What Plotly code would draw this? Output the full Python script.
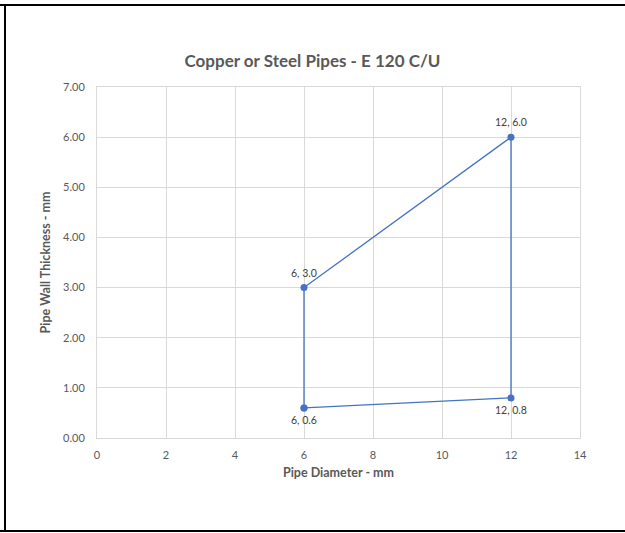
import plotly.graph_objects as go

# pipe outline, closed polygon
diameter = [6, 6, 12, 12, 6]
thickness = [0.6, 3.0, 6.0, 0.8, 0.6]
labels = ["6, 0.6", "6, 3.0", "12, 6.0", "12, 0.8"]
label_above = [False, True, True, False]

x_ticks = [0, 2, 4, 6, 8, 10, 12, 14]
y_ticks = [0, 1, 2, 3, 4, 5, 6, 7]

blue = "#4472C4"
grey = "#595959"

fig = go.Figure()

fig.add_trace(
    go.Scatter(
        x=diameter,
        y=thickness,
        mode="lines+markers",
        line=dict(color=blue, width=1.3),
        marker=dict(color=blue, size=7),
        showlegend=False,
        cliponaxis=False,
    )
)

for x, y, txt, above in zip(diameter, thickness, labels, label_above):
    fig.add_annotation(
        x=x, y=y, text=txt, showarrow=False,
        yshift=15 if above else -12,
        font=dict(family="Lato, Arial", size=10.5, color="#404040"),
    )

W, H = 625, 533
L, R, T, B = 97, 45, 87, 95
pw, ph = W - L - R, H - T - B


def px(x):
    return (x - L) / pw


def py(y):
    return (H - B - y) / ph


# outer frame (top, left, bottom)
frame = dict(color="black", width=2)
fig.add_shape(type="line", xref="paper", yref="paper",
              x0=px(0), x1=px(W), y0=py(5), y1=py(5), line=frame)
fig.add_shape(type="line", xref="paper", yref="paper",
              x0=px(5), x1=px(5), y0=py(5), y1=py(531), line=frame)
fig.add_shape(type="line", xref="paper", yref="paper",
              x0=px(0), x1=px(W), y0=py(531), y1=py(531), line=frame)

fig.update_layout(
    width=W,
    height=H,
    margin=dict(l=L, r=R, t=T, b=B),
    paper_bgcolor="white",
    plot_bgcolor="white",
    font=dict(family="Lato, Arial", color=grey),
    title=dict(
        text="<b>Copper or Steel Pipes - E 120 C/U</b>",
        x=0.5,
        xanchor="center",
        xref="container",
        y=1 - 61 / H,
        yanchor="middle",
        font=dict(family="Lato, Arial", size=17, color=grey),
    ),
    xaxis=dict(
        range=[0, 14],
        tickvals=x_ticks,
        ticktext=[str(v) for v in x_ticks],
        showgrid=True,
        gridcolor="#D9D9D9",
        zeroline=False,
        showline=True,
        linecolor="#D9D9D9",
        mirror=True,
        ticks="",
        ticklabelstandoff=7,
        tickfont=dict(size=11, color=grey),
        title=dict(text="<b>Pipe Diameter - mm</b>",
                   font=dict(size=12.5, color=grey), standoff=8),
    ),
    yaxis=dict(
        range=[0, 7],
        tickvals=y_ticks,
        ticktext=[f"{v:.2f}" for v in y_ticks],
        showgrid=True,
        gridcolor="#D9D9D9",
        zeroline=False,
        showline=True,
        linecolor="#D9D9D9",
        mirror=True,
        ticks="",
        ticklabelstandoff=9,
        tickfont=dict(size=11, color=grey),
        title=dict(text="<b>Pipe Wall Thickness - mm</b>",
                   font=dict(size=12.5, color=grey), standoff=9),
    ),
)

fig.write_html(
    "out.html",
    config={"displayModeBar": False},
    post_script="document.body.style.margin='0';"
                "document.body.style.overflow='hidden';",
)
